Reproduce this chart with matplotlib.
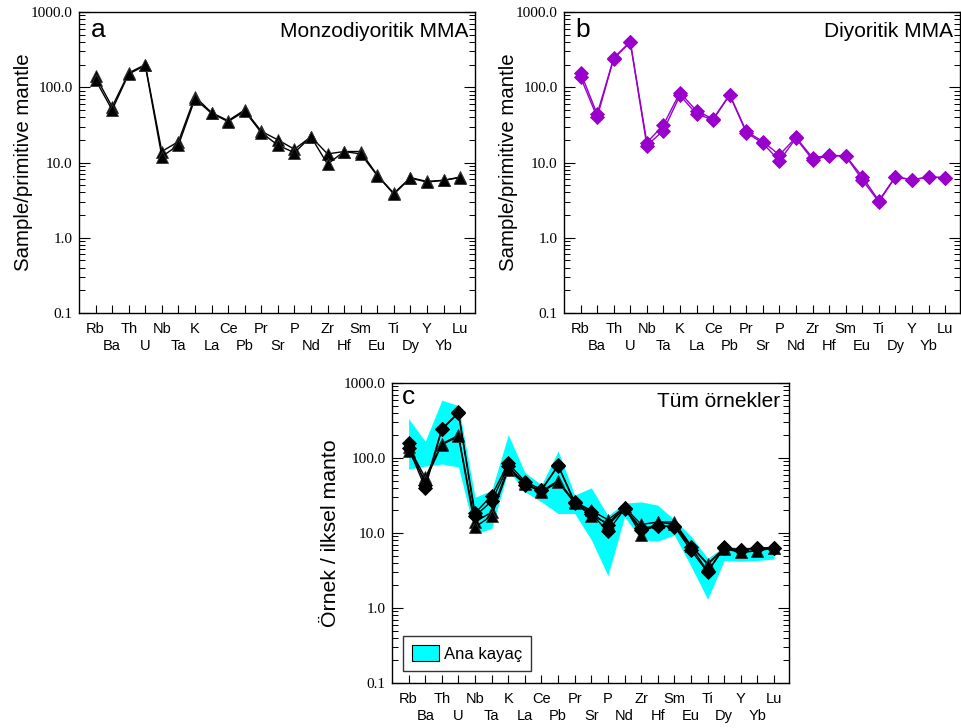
import matplotlib
matplotlib.use("Agg")
import matplotlib.pyplot as plt
from matplotlib.patches import Patch

plt.rcParams['font.family'] = ['Liberation Sans', 'DejaVu Sans']

elements = ["Rb", "Ba", "Th", "U", "Nb", "Ta", "K", "La", "Ce", "Pb", "Pr", "Sr",
            "P", "Nd", "Zr", "Hf", "Sm", "Eu", "Ti", "Dy", "Y", "Yb", "Lu"]

# Monzodiyoritik MMA samples
monzo_1 = [140, 55, 155, 200, 14, 19, 75, 46, 36, 50, 26, 20, 15, 22, 13, 14, 14, 6.8, 3.9, 6.3, 5.6, 5.8, 6.4]
monzo_2 = [125, 50, 150, 195, 12, 17, 70, 45, 35, 48, 25, 17, 13.5, 22, 9.5, 14, 13, 6.7, 3.8, 6.2, 5.5, 5.8, 6.3]

# Diyoritik MMA samples
dio_1 = [157, 44, 245, 405, 18.4, 31.6, 85, 48.5, 38, 80, 26, 19, 12.6, 21.5, 11.6, 12.4, 12.3, 6.5, 3.1, 6.5, 5.9, 6.4, 6.3]
dio_2 = [136, 40, 240, 395, 16.8, 26.6, 78, 44, 37, 79, 25, 18, 10.5, 21, 10.9, 12.3, 12.2, 5.9, 3.0, 6.4, 5.9, 6.4, 6.3]

# Host rock (Ana kayac) envelope
host_hi = [335, 167, 590, 500, 30, 37, 205, 64, 44, 124, 32, 40, 17, 25, 26, 23.5, 15, 9.1, 4.6, 6.6, 6.4, 6.6, 6.5]
host_lo = [71, 78, 83, 76, 9.7, 11.5, 69, 35.5, 26, 18.2, 18.2, 8.1, 2.7, 16.5, 8.1, 7.8, 9.4, 3.6, 1.31, 4.3, 4.2, 4.3, 4.5]

ytick_vals = [0.1, 1, 10, 100, 1000]
ytick_labels = ["0.1", "1.0", "10.0", "100.0", "1000.0"]

W, H = 962, 728
fig = plt.figure(figsize=(W / 100, H / 100), dpi=100)


def make_ax(left, top, right, bottom):
    return fig.add_axes([left / W, (H - bottom) / H, (right - left) / W, (bottom - top) / H])


def style(ax, ylabel, ylabel_off, ylabel_size):
    ax.set_yscale('log')
    ax.set_ylim(0.1, 1000)
    ax.set_xlim(-1, 22.9)
    xs = list(range(len(elements)))
    ax.set_xticks(xs)
    ax.set_xticklabels([])
    ax.tick_params(axis='x', direction='in', length=6, width=0.8, bottom=True, top=False)
    ax.set_yticks(ytick_vals)
    ax.set_yticklabels(ytick_labels, fontfamily=['Liberation Serif'], fontsize=11)
    ax.tick_params(axis='y', which='major', direction='in', length=8, width=0.8,
                   left=True, right=True, pad=4.5)
    ax.tick_params(axis='y', which='minor', direction='in', length=4, width=0.7,
                   left=True, right=True)
    for sp in ax.spines.values():
        sp.set_linewidth(1.0)
    for i, el in enumerate(elements):
        off = -16 if i % 2 == 0 else -33
        ax.annotate(el, xy=(i, 0), xycoords=('data', 'axes fraction'),
                    xytext=(0, off), textcoords='offset pixels',
                    ha='center', va='center', fontsize=10.5)
    ax.set_ylabel(ylabel, fontsize=ylabel_size)
    ax.yaxis.set_label_coords(ylabel_off, 0.5)


# Panel a
ax_a = make_ax(79, 12, 475, 313)
for s in (monzo_1, monzo_2):
    ax_a.plot(range(len(elements)), s, color='black', lw=1.0, marker='^',
              markersize=8.8, markerfacecolor='black', markeredgecolor='#333333',
              markeredgewidth=0.6)
style(ax_a, "Sample/primitive mantle", -46 / 396, 14.7)
ax_a.text(12 / 396, 1 - 25 / 301, "a", transform=ax_a.transAxes, fontsize=19, va='baseline', ha='left')
ax_a.text(1 - 7 / 396, 1 - 25 / 301, "Monzodiyoritik MMA", transform=ax_a.transAxes,
          fontsize=15, va='baseline', ha='right')

# Panel b
purple = '#9900CC'
ax_b = make_ax(564, 12, 960, 313)
for s in (dio_1, dio_2):
    ax_b.plot(range(len(elements)), s, color=purple, lw=1.0, marker='D',
              markersize=6.8, markerfacecolor=purple, markeredgecolor=purple,
              markeredgewidth=0.6)
style(ax_b, "Sample/primitive mantle", -46 / 396, 14.7)
ax_b.text(11 / 396, 1 - 25 / 301, "b", transform=ax_b.transAxes, fontsize=19, va='baseline', ha='left')
ax_b.text(1 - 7 / 396, 1 - 25 / 301, "Diyoritik MMA", transform=ax_b.transAxes,
          fontsize=15, va='baseline', ha='right')

# Panel c
ax_c = make_ax(392, 383, 789, 683)
ax_c.fill_between(range(len(elements)), host_lo, host_hi, color='#00FFFF', lw=0, zorder=1)
for s in (monzo_1, monzo_2):
    ax_c.plot(range(len(elements)), s, color='black', lw=1.0, marker='^',
              markersize=8.8, markerfacecolor='black', markeredgecolor='#333333',
              markeredgewidth=0.6, zorder=3)
for s in (dio_1, dio_2):
    ax_c.plot(range(len(elements)), s, color='black', lw=1.0, marker='D',
              markersize=6.8, markerfacecolor='black', markeredgecolor='black',
              markeredgewidth=0.6, zorder=3)
style(ax_c, "Örnek / ilksel manto", -52 / 397, 15.3)
ax_c.text(10 / 397, 1 - 21 / 300, "c", transform=ax_c.transAxes, fontsize=19, va='baseline', ha='left')
ax_c.text(1 - 9 / 397, 1 - 24 / 300, "Tüm örnekler", transform=ax_c.transAxes,
          fontsize=15, va='baseline', ha='right')
leg = ax_c.legend(handles=[Patch(facecolor='#00FFFF', edgecolor='black', linewidth=0.8, label='Ana kayaç')],
                  loc='lower left', bbox_to_anchor=(11 / 397, 12 / 300), borderaxespad=0,
                  fancybox=False, edgecolor='#333333', framealpha=1, fontsize=12,
                  handlelength=1.6, handleheight=1.1, borderpad=0.55, handletextpad=0.3)
leg.get_frame().set_linewidth(1.0)

fig.savefig("out.png", dpi=100)
